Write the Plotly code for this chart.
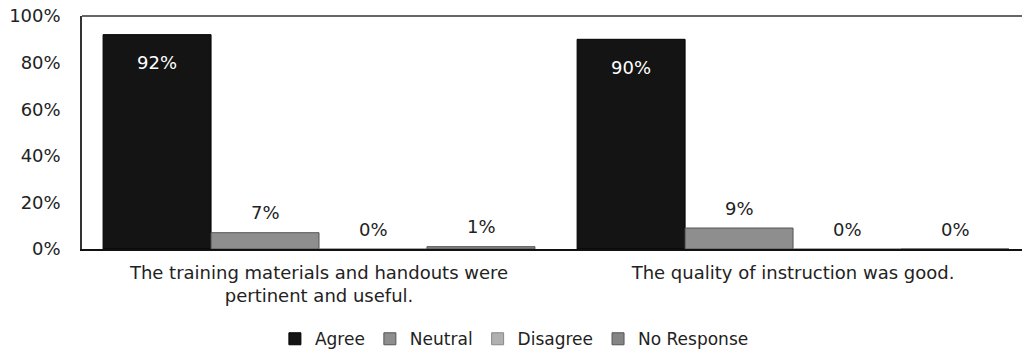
import plotly.graph_objects as go

categories = ["The training materials and handouts were<br>pertinent and useful.",
              "The quality of instruction was good."]
series_names = ["Agree", "Neutral", "Disagree", "No Response"]
agree = [92, 90]
neutral = [7, 9]
disagree = [0, 0]
no_response = [1, 0]
y_ticks = [0, 20, 40, 60, 80, 100]
y_tick_labels = ["0%", "20%", "40%", "60%", "80%", "100%"]

values = [agree, neutral, disagree, no_response]
colors = ["#141414", "#8e8e8e", "#b0b0b0", "#858585"]
line_colors = ["#000000", "#555555", "#888888", "#555555"]
xshifts = [-162, -54, 54, 162]

fig = go.Figure()
for name, vals, c, lc in zip(series_names, values, colors, line_colors):
    fig.add_trace(go.Bar(x=categories, y=vals, name=name, marker_color=c,
                         marker_line=dict(color=lc, width=1)))

font = "DejaVu Sans, Arial, sans-serif"
for i, vals in enumerate(values):
    for cat, v in zip(categories, vals):
        inside = v > 50
        fig.add_annotation(x=cat, y=v, xref="x", yref="y", text=f"{v}%",
                           showarrow=False, xshift=xshifts[i],
                           yshift=-28 if inside else 20, yanchor="middle",
                           font=dict(family=font, size=18,
                                     color="#ffffff" if inside else "#222222"))

fig.add_shape(type="line", xref="paper", yref="paper", x0=0, x1=1, y0=1, y1=1,
              line=dict(color="#333333", width=1.5))

fig.update_layout(
    width=1022, height=351,
    margin=dict(l=82, r=0, t=16, b=102, autoexpand=False),
    paper_bgcolor="white", plot_bgcolor="white",
    barmode="group", bargap=0.089, bargroupgap=0,
    font=dict(family=font, size=18, color="#222222"),
    showlegend=True,
    legend=dict(orientation="h", x=0.46, xanchor="center", y=-0.31, yanchor="top",
                font=dict(size=17), itemwidth=30, traceorder="normal"),
    xaxis=dict(range=[-0.5, 1.483], showline=True, linecolor="#111111", linewidth=2,
               showgrid=False, ticks="", ticklabelstandoff=6, automargin=False,
               tickfont=dict(size=18)),
    yaxis=dict(range=[0, 100], tickvals=y_ticks, ticktext=y_tick_labels,
               showline=True, linecolor="#333333", linewidth=1.5, showgrid=False,
               zeroline=False, ticks="", ticklabelstandoff=16, automargin=False,
               ticklabeloverflow="allow", tickfont=dict(size=18)),
)

# remove the default page margin so the figure sits at the window's corner
fig.write_html("out.html", config={"displayModeBar": False},
               post_script="document.body.style.margin='0';document.body.style.overflow='hidden';")
